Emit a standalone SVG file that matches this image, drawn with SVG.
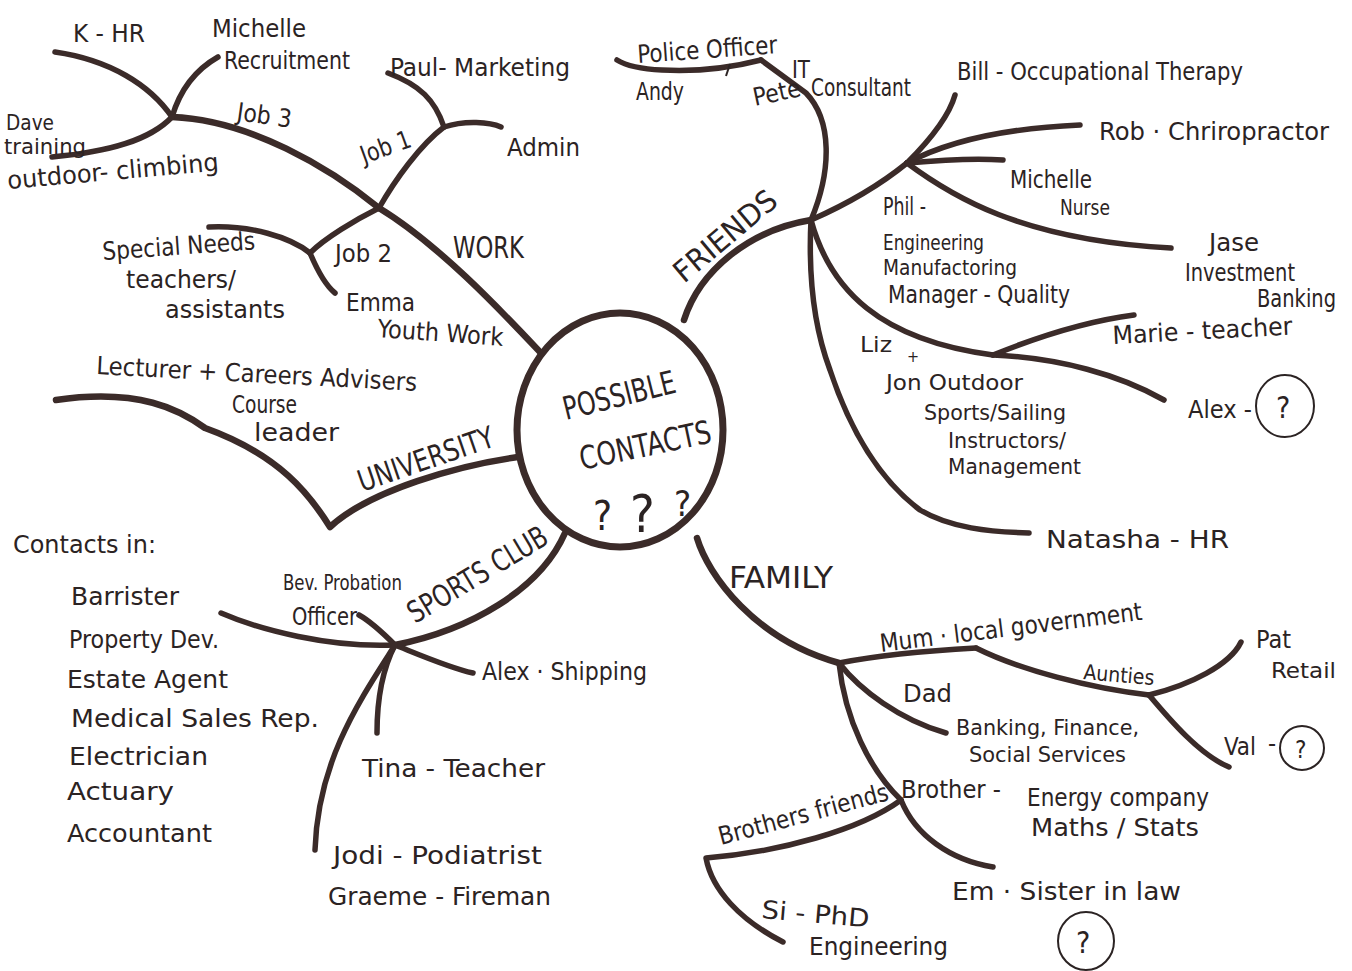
<svg xmlns="http://www.w3.org/2000/svg" width="1352" height="971" viewBox="0 0 1352 971">
<style>
  text { font-family: "DejaVu Sans Condensed", "Liberation Sans", sans-serif; fill: #2b2323; font-size: 25px; }
  .s { font-size: 21px; }
  .h { font-size: 30px; }
  .c { font-size: 32px; }
  .ln { fill: none; stroke: #3b2b29; stroke-width: 5.5; stroke-linecap: round; stroke-linejoin: round; }
  .main { stroke-width: 6.5; }
  .thin { fill: none; stroke: #2b2323; stroke-width: 2; }
</style>
<rect x="0" y="0" width="1352" height="971" fill="#ffffff"/>

<g id="connectors">
  <!-- WORK -->
  <path class="ln main" d="M540,352 C505,315 440,245 379,208"/>
  <path class="ln main" d="M379,208 C330,168 250,120 172,117"/>
  <path class="ln" d="M172,117 C150,85 110,60 55,52"/>
  <path class="ln" d="M172,117 C180,90 195,70 218,57"/>
  <path class="ln" d="M172,117 C150,140 110,152 52,157"/>
  <path class="ln" d="M379,208 C395,180 420,145 444,127"/>
  <path class="ln" d="M444,127 C435,100 420,85 388,73"/>
  <path class="ln" d="M444,127 C465,120 490,122 501,127"/>
  <path class="ln" d="M379,208 C355,220 325,238 310,253"/>
  <path class="ln" d="M310,253 C290,237 250,225 209,227"/>
  <path class="ln" d="M310,253 C318,272 325,285 335,293"/>
  <!-- FRIENDS -->
  <path class="ln main" d="M684,320 C700,270 750,230 811,220"/>
  <path class="ln" d="M811,220 C832,170 832,120 806,93 L761,60"/>
  <path class="ln" d="M761,60 C730,68 700,72 662,70 C640,69 625,65 617,60"/>
  <path class="thin" d="M730,64 L726,76"/>
  <path class="ln" d="M811,220 C808,280 815,330 830,370 C850,430 880,480 920,510 C950,528 990,532 1029,533"/>
  <path class="ln" d="M811,220 C845,205 880,185 907,163"/>
  <path class="ln" d="M907,163 C925,145 948,120 955,95"/>
  <path class="ln" d="M907,163 C950,140 1010,128 1080,125"/>
  <path class="ln" d="M907,163 C940,160 975,158 1003,160"/>
  <path class="ln" d="M907,163 C950,195 1020,240 1171,248"/>
  <path class="ln" d="M811,220 C830,290 880,340 993,355"/>
  <path class="ln" d="M993,355 C1030,340 1080,322 1134,315"/>
  <path class="ln" d="M993,355 C1060,358 1120,375 1164,400"/>
  <!-- UNIVERSITY -->
  <path class="ln main" d="M518,457 C460,465 370,490 330,527 C310,495 280,455 205,428 C180,410 140,388 56,400"/>
  <!-- SPORTS CLUB -->
  <path class="ln main" d="M565,533 C540,590 470,630 395,645"/>
  <path class="ln" d="M395,645 C330,648 260,630 221,613"/>
  <path class="ln" d="M395,645 C380,630 368,620 359,615"/>
  <path class="ln" d="M395,645 C420,655 450,668 473,673"/>
  <path class="ln" d="M395,645 C382,670 377,700 377,733"/>
  <path class="ln" d="M395,645 C360,700 318,760 315,850"/>
  <!-- FAMILY -->
  <path class="ln main" d="M697,538 C708,575 755,640 839,663"/>
  <path class="ln" d="M839,663 C880,655 940,650 976,648"/>
  <path class="ln" d="M976,648 C1020,670 1090,688 1149,695"/>
  <path class="ln" d="M1149,695 C1190,685 1230,665 1241,642"/>
  <path class="ln" d="M1149,695 C1170,720 1200,755 1229,767"/>
  <path class="ln" d="M839,663 C860,690 900,720 946,733"/>
  <path class="ln" d="M839,663 C845,720 870,770 901,800"/>
  <path class="ln" d="M901,800 C915,835 950,860 993,867"/>
  <path class="ln" d="M901,800 C860,830 780,852 706,858 C712,890 740,920 783,942"/>
</g>

<g id="centre">
  <ellipse cx="620" cy="430" rx="103" ry="117" fill="none" stroke="#3b2b29" stroke-width="7"/>
  <text class="c" transform="translate(566,420) rotate(-14)" textLength="115" lengthAdjust="spacingAndGlyphs">POSSIBLE</text>
  <text class="c" transform="translate(582,470) rotate(-12)" textLength="134" lengthAdjust="spacingAndGlyphs">CONTACTS</text>
  <text x="593" y="530" style="font-size:40px">?</text>
  <text x="630" y="532" style="font-size:52px">?</text>
  <text x="674" y="516" style="font-size:36px">?</text>
</g>

<g id="work">
  <text class="h" x="453" y="258" textLength="71" lengthAdjust="spacingAndGlyphs">WORK</text>
  <text x="73" y="42" textLength="72" lengthAdjust="spacingAndGlyphs">K - HR</text>
  <text x="212" y="37" textLength="94" lengthAdjust="spacingAndGlyphs">Michelle</text>
  <text x="224" y="69" textLength="126" lengthAdjust="spacingAndGlyphs">Recruitment</text>
  <text x="390" y="76" textLength="180" lengthAdjust="spacingAndGlyphs">Paul- Marketing</text>
  <text transform="translate(236,120) rotate(8)" textLength="55" lengthAdjust="spacingAndGlyphs">Job 3</text>
  <text class="s" x="6" y="130" textLength="48" lengthAdjust="spacingAndGlyphs">Dave</text>
  <text class="s" x="4" y="154" textLength="82" lengthAdjust="spacingAndGlyphs">training</text>
  <text transform="translate(8,189) rotate(-5)" textLength="212" lengthAdjust="spacingAndGlyphs">outdoor- climbing</text>
  <text transform="translate(364,164) rotate(-20)" textLength="52" lengthAdjust="spacingAndGlyphs">Job 1</text>
  <text x="507" y="156" textLength="73" lengthAdjust="spacingAndGlyphs">Admin</text>
  <text transform="translate(103,260) rotate(-4)" textLength="153" lengthAdjust="spacingAndGlyphs">Special Needs</text>
  <text x="126" y="288" textLength="110" lengthAdjust="spacingAndGlyphs">teachers/</text>
  <text x="165" y="318" textLength="120" lengthAdjust="spacingAndGlyphs">assistants</text>
  <text x="335" y="262" textLength="57" lengthAdjust="spacingAndGlyphs">Job 2</text>
  <text x="346" y="311" textLength="69" lengthAdjust="spacingAndGlyphs">Emma</text>
  <text transform="translate(377,337) rotate(4)" textLength="126" lengthAdjust="spacingAndGlyphs">Youth Work</text>
</g>

<g id="friends">
  <text class="h" transform="translate(684,284) rotate(-40)" textLength="125" lengthAdjust="spacingAndGlyphs">FRIENDS</text>
  <text transform="translate(638,63) rotate(-4)" textLength="140" lengthAdjust="spacingAndGlyphs">Police Officer</text>
  <text x="636" y="100" textLength="48" lengthAdjust="spacingAndGlyphs">Andy</text>
  <text transform="translate(755,106) rotate(-12)" textLength="48" lengthAdjust="spacingAndGlyphs">Pete</text>
  <text x="792" y="78" textLength="18" lengthAdjust="spacingAndGlyphs">IT</text>
  <text x="811" y="96" textLength="100" lengthAdjust="spacingAndGlyphs">Consultant</text>
  <text x="957" y="80" textLength="286" lengthAdjust="spacingAndGlyphs">Bill - Occupational Therapy</text>
  <text x="1099" y="140" textLength="230" lengthAdjust="spacingAndGlyphs">Rob · Chriropractor</text>
  <text x="1010" y="188" textLength="82" lengthAdjust="spacingAndGlyphs">Michelle</text>
  <text class="s" x="1060" y="215" textLength="50" lengthAdjust="spacingAndGlyphs">Nurse</text>
  <text x="883" y="215" textLength="43" lengthAdjust="spacingAndGlyphs">Phil -</text>
  <text class="s" x="883" y="250" textLength="101" lengthAdjust="spacingAndGlyphs">Engineering</text>
  <text class="s" x="883" y="275" textLength="134" lengthAdjust="spacingAndGlyphs">Manufactoring</text>
  <text x="888" y="303" textLength="182" lengthAdjust="spacingAndGlyphs">Manager - Quality</text>
  <text x="1209" y="251" textLength="50" lengthAdjust="spacingAndGlyphs">Jase</text>
  <text x="1185" y="281" textLength="110" lengthAdjust="spacingAndGlyphs">Investment</text>
  <text x="1257" y="307" textLength="79" lengthAdjust="spacingAndGlyphs">Banking</text>
  <text transform="translate(1113,344) rotate(-3)" textLength="180" lengthAdjust="spacingAndGlyphs">Marie - teacher</text>
  <text class="s" x="860" y="352" textLength="32" lengthAdjust="spacingAndGlyphs">Liz</text>
  <text class="s" x="907" y="362" style="font-size:16px">+</text>
  <text class="s" x="886" y="390" textLength="137" lengthAdjust="spacingAndGlyphs">Jon Outdoor</text>
  <text class="s" x="924" y="420" textLength="142" lengthAdjust="spacingAndGlyphs">Sports/Sailing</text>
  <text class="s" x="948" y="448" textLength="118" lengthAdjust="spacingAndGlyphs">Instructors/</text>
  <text class="s" x="948" y="474" textLength="133" lengthAdjust="spacingAndGlyphs">Management</text>
  <text x="1188" y="418" textLength="64" lengthAdjust="spacingAndGlyphs">Alex -</text>
  <ellipse cx="1285" cy="406" rx="29" ry="31" fill="none" stroke="#2b2323" stroke-width="2"/>
  <text x="1276" y="418" style="font-size:30px">?</text>
  <text x="1046" y="548" textLength="183" lengthAdjust="spacingAndGlyphs">Natasha - HR</text>
</g>

<g id="university">
  <text class="h" transform="translate(362,492) rotate(-19)" textLength="142" lengthAdjust="spacingAndGlyphs">UNIVERSITY</text>
  <text transform="translate(96,374) rotate(3)" textLength="321" lengthAdjust="spacingAndGlyphs">Lecturer + Careers Advisers</text>
  <text x="232" y="413" textLength="65" lengthAdjust="spacingAndGlyphs">Course</text>
  <text x="254" y="441" textLength="85" lengthAdjust="spacingAndGlyphs">leader</text>
</g>

<g id="contacts-list">
  <text x="13" y="553" textLength="143" lengthAdjust="spacingAndGlyphs">Contacts in:</text>
  <text x="71" y="605" textLength="108" lengthAdjust="spacingAndGlyphs">Barrister</text>
  <text x="69" y="648" textLength="150" lengthAdjust="spacingAndGlyphs">Property Dev.</text>
  <text x="67" y="688" textLength="161" lengthAdjust="spacingAndGlyphs">Estate Agent</text>
  <text x="71" y="727" textLength="248" lengthAdjust="spacingAndGlyphs">Medical Sales Rep.</text>
  <text x="69" y="765" textLength="139" lengthAdjust="spacingAndGlyphs">Electrician</text>
  <text x="67" y="800" textLength="107" lengthAdjust="spacingAndGlyphs">Actuary</text>
  <text x="67" y="842" textLength="145" lengthAdjust="spacingAndGlyphs">Accountant</text>
</g>

<g id="sports-club">
  <text class="h" transform="translate(415,624) rotate(-31)" textLength="158" lengthAdjust="spacingAndGlyphs">SPORTS CLUB</text>
  <text class="s" x="283" y="590" textLength="119" lengthAdjust="spacingAndGlyphs">Bev. Probation</text>
  <text x="292" y="625" textLength="65" lengthAdjust="spacingAndGlyphs">Officer</text>
  <text x="482" y="680" textLength="165" lengthAdjust="spacingAndGlyphs">Alex · Shipping</text>
  <text x="362" y="777" textLength="183" lengthAdjust="spacingAndGlyphs">Tina - Teacher</text>
  <text x="333" y="864" textLength="209" lengthAdjust="spacingAndGlyphs">Jodi - Podiatrist</text>
  <text x="328" y="905" textLength="223" lengthAdjust="spacingAndGlyphs">Graeme - Fireman</text>
</g>

<g id="family">
  <text class="h" x="729" y="588" textLength="104" lengthAdjust="spacingAndGlyphs">FAMILY</text>
  <text transform="translate(881,652) rotate(-7)" textLength="264" lengthAdjust="spacingAndGlyphs">Mum · local government</text>
  <text class="s" transform="translate(1083,679) rotate(5)" textLength="71" lengthAdjust="spacingAndGlyphs">Aunties</text>
  <text x="1256" y="648" textLength="35" lengthAdjust="spacingAndGlyphs">Pat</text>
  <text class="s" x="1271" y="678" textLength="65" lengthAdjust="spacingAndGlyphs">Retail</text>
  <text x="903" y="702" textLength="49" lengthAdjust="spacingAndGlyphs">Dad</text>
  <text class="s" x="956" y="735" textLength="183" lengthAdjust="spacingAndGlyphs">Banking, Finance,</text>
  <text class="s" x="969" y="762" textLength="157" lengthAdjust="spacingAndGlyphs">Social Services</text>
  <text x="1224" y="755" textLength="32" lengthAdjust="spacingAndGlyphs">Val</text>
  <text x="1268" y="752">-</text>
  <ellipse cx="1302" cy="748" rx="22" ry="22" fill="none" stroke="#2b2323" stroke-width="2"/>
  <text x="1295" y="758" style="font-size:24px">?</text>
  <text x="901" y="798" textLength="100" lengthAdjust="spacingAndGlyphs">Brother -</text>
  <text x="1027" y="806" textLength="182" lengthAdjust="spacingAndGlyphs">Energy company</text>
  <text x="1031" y="836" textLength="168" lengthAdjust="spacingAndGlyphs">Maths / Stats</text>
  <text transform="translate(721,845) rotate(-15)" textLength="175" lengthAdjust="spacingAndGlyphs">Brothers friends</text>
  <text x="952" y="900" textLength="229" lengthAdjust="spacingAndGlyphs">Em · Sister in law</text>
  <text transform="translate(761,918) rotate(5)" textLength="108" lengthAdjust="spacingAndGlyphs">Si - PhD</text>
  <text x="809" y="955" textLength="139" lengthAdjust="spacingAndGlyphs">Engineering</text>
  <ellipse cx="1086" cy="941" rx="28" ry="29" fill="none" stroke="#2b2323" stroke-width="2"/>
  <text x="1076" y="953" style="font-size:30px">?</text>
</g>
</svg>
